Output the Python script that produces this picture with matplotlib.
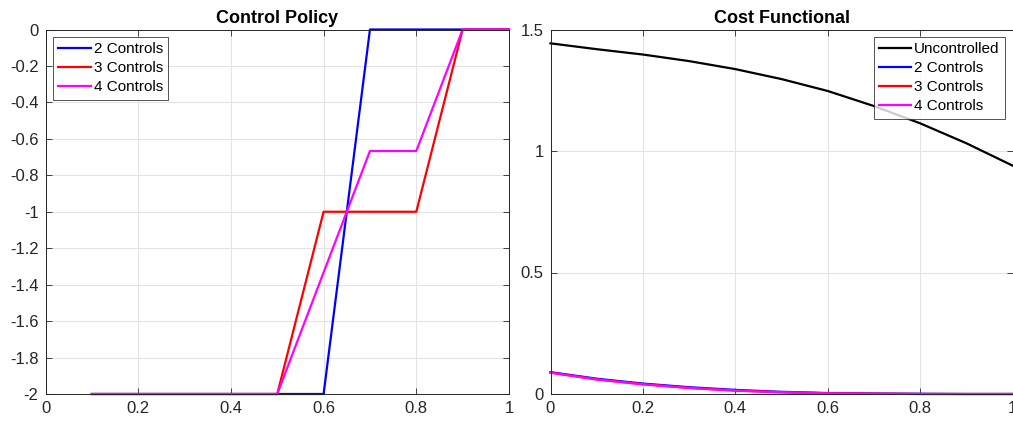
import matplotlib
matplotlib.use("Agg")
import matplotlib.pyplot as plt
from matplotlib.ticker import FuncFormatter

plt.rcParams['font.family'] = ['Liberation Sans', 'DejaVu Sans']

# Control policy data
x_policy = [0.1, 0.2, 0.3, 0.4, 0.5, 0.6, 0.7, 0.8, 0.9, 1.0]
u2 = [-2, -2, -2, -2, -2, -2, 0, 0, 0, 0]
u3 = [-2, -2, -2, -2, -2, -1, -1, -1, 0, 0]
u4 = [-2, -2, -2, -2, -2, -4/3, -2/3, -2/3, 0, 0]

# Cost functional data
x_cost = [0.0, 0.1, 0.2, 0.3, 0.4, 0.5, 0.6, 0.7, 0.8, 0.9, 1.0]
j_unc = [1.443, 1.419, 1.397, 1.370, 1.337, 1.296, 1.247, 1.185, 1.114, 1.032, 0.940]
j2 = [0.090, 0.063, 0.043, 0.028, 0.017, 0.009, 0.004, 0.002, 0.001, 0.000, 0.000]
j3 = [0.088, 0.060, 0.040, 0.025, 0.014, 0.007, 0.003, 0.001, 0.000, 0.000, 0.000]
j4 = [0.088, 0.060, 0.040, 0.025, 0.014, 0.007, 0.003, 0.001, 0.000, 0.000, 0.000]

xticks = [0, 0.2, 0.4, 0.6, 0.8, 1.0]
yticks_left = [-2, -1.8, -1.6, -1.4, -1.2, -1, -0.8, -0.6, -0.4, -0.2, 0]
yticks_right = [0, 0.5, 1, 1.5]

fig = plt.figure(figsize=(10.13, 4.22), dpi=100)
ax1 = fig.add_axes([45.5/1013, 28/422, 463.5/1013, 364.5/422])
ax2 = fig.add_axes([550.5/1013, 28/422, 462/1013, 364.5/422])

fmt = FuncFormatter(lambda v, p: ('%g' % round(v, 6)).replace('\u2212', '-'))

lw = 1.6
ax1.plot(x_policy, u2, color='#0000ff', lw=lw, label='2 Controls', clip_on=False)
ax1.plot(x_policy, u3, color='#ff0000', lw=lw, label='3 Controls', clip_on=False)
ax1.plot(x_policy, u4, color='#ff00ff', lw=lw, label='4 Controls', clip_on=False)
ax1.set_xlim(0, 1)
ax1.set_ylim(-2, 0)
ax1.set_yticks(yticks_left)
ax1.set_title('Control Policy', fontweight='bold', fontsize=13, pad=4.5)

ax2.plot(x_cost, j_unc, color='#000000', lw=lw, label='Uncontrolled', clip_on=False)
ax2.plot(x_cost, j2, color='#0000ff', lw=lw, label='2 Controls', clip_on=False)
ax2.plot(x_cost, j3, color='#ff0000', lw=lw, label='3 Controls', clip_on=False)
ax2.plot(x_cost, j4, color='#ff00ff', lw=lw, label='4 Controls', clip_on=False)
ax2.set_xlim(0, 1)
ax2.set_ylim(0, 1.5)
ax2.set_yticks(yticks_right)
ax2.set_title('Cost Functional', fontweight='bold', fontsize=13, pad=4.5)

for ax in (ax1, ax2):
    ax.set_xticks(xticks)
    ax.xaxis.set_major_formatter(fmt)
    ax.yaxis.set_major_formatter(fmt)
    ax.grid(True, color='#e3e3e3', lw=0.8)
    ax.set_axisbelow(True)
    ax.tick_params(direction='in', top=True, right=True, labelsize=12,
                   length=4, width=0.6, colors='#262626')
    ax.tick_params(axis='y', pad=5)
    ax.tick_params(axis='x', pad=5)
    for s in ax.spines.values():
        s.set_color('#262626')
        s.set_linewidth(0.7)

leg_kw = dict(fontsize=11, frameon=True, fancybox=False, edgecolor='#262626',
              handlelength=2.1, handletextpad=0.2, borderpad=0.35,
              labelspacing=0.32, borderaxespad=0.5)
l1 = ax1.legend(loc='upper left', **leg_kw)
l2 = ax2.legend(loc='upper right', **leg_kw)
for l in (l1, l2):
    l.get_frame().set_linewidth(0.7)

fig.savefig('out.png', dpi=100)
